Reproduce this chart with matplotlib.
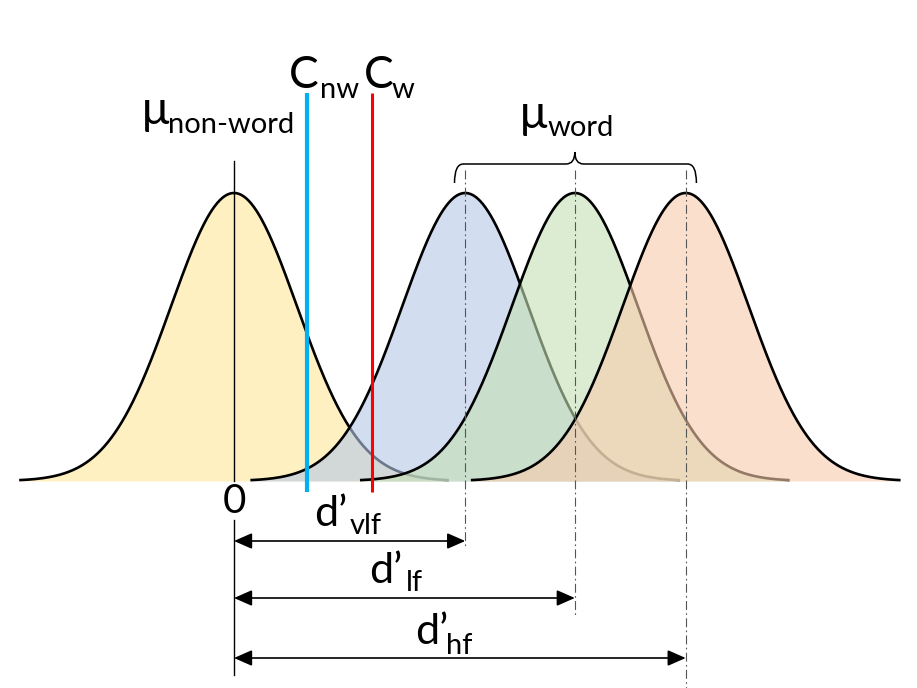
import numpy as np
import matplotlib
matplotlib.use("Agg")
import matplotlib.pyplot as plt
from matplotlib.path import Path
from matplotlib.patches import PathPatch

# Signal-detection picture of a lexical decision task (units: one SD)
mu_nonword = 0.0
word_means = [3.67, 5.41, 7.17]          # very low, low, high frequency words
word_labels = ["vlf", "lf", "hf"]
c_nonword = 1.16                           # criterion C_nw
c_word = 2.19                              # criterion C_w
tail = 3.41                                # curves are cut off at +/- this

fill_colors = ["#FFE699", "#B4C7E7", "#C5E0B4", "#F8CBAD"]
fill_alpha = 0.6

W, H = 917, 688
PX_X = 63.0      # pixels per SD
PX_Y = 288.0     # pixels per unit of density (peak = 1)
X0, Y0 = 234.0, 481.0

fig = plt.figure(figsize=(W / 100, H / 100), dpi=100)
ax = fig.add_axes([0, 0, 1, 1])
ax.set_xlim(-X0 / PX_X, (W - X0) / PX_X)
ax.set_ylim(-(H - Y0) / PX_Y, Y0 / PX_Y)
ax.axis("off")

# overlay in pixel units for the text labels
tx = fig.add_axes([0, 0, 1, 1], facecolor="none")
tx.set_xlim(0, W)
tx.set_ylim(H, 0)
tx.axis("off")


def yd(py):
    """vertical pixel position -> density units"""
    return (Y0 - py) / PX_Y


means = [mu_nonword] + word_means
for i, (mu, col) in enumerate(zip(means, fill_colors)):
    x = np.linspace(mu - tail, mu + tail, 500)
    y = np.exp(-0.5 * (x - mu) ** 2)
    ax.fill_between(x, 0, y, color=col, alpha=fill_alpha, lw=0, zorder=2 * i + 1)
    ax.plot(x, y, color="black", lw=1.9, zorder=2 * i + 2, solid_capstyle="butt")

# criteria
ax.plot([c_nonword, c_nonword], [yd(93), yd(492)], color="#00B0F0", lw=3.0, zorder=20,
        solid_capstyle="butt")
ax.plot([c_word, c_word], [yd(93), yd(492)], color="#FF0000", lw=2.2, zorder=20,
        solid_capstyle="butt")

# non-word mean marker
ax.plot([mu_nonword, mu_nonword], [yd(161), 0], color="black", lw=1.0, zorder=20)
ax.plot([mu_nonword, mu_nonword], [yd(520), yd(675)], color="black", lw=1.0, zorder=20)

# word means (dash-dot) and d' arrows
arrow_py = [541, 598, 658]
line_bottom_py = [548, 615, 690]
for mu, apy, lpy in zip(word_means, arrow_py, line_bottom_py):
    ax.plot([mu, mu], [yd(170), yd(lpy)], color="#555555", lw=0.8, zorder=19,
            linestyle=(0, (8, 3, 1.5, 3)))
    ax.annotate("", xy=(mu, yd(apy)), xytext=(mu_nonword, yd(apy)),
                arrowprops=dict(arrowstyle="<|-|>,head_length=0.5,head_width=0.22",
                                mutation_scale=22, lw=1.2, color="black",
                                shrinkA=0, shrinkB=0), zorder=21)

# brace over the word means
xl = word_means[0] - 0.17
xr = word_means[-1] + 0.17
xm = word_means[1]
r = 0.14
y_end, y_h, y_tip = yd(183), yd(164), yd(152)
verts = [(xl, y_end), (xl, y_h), (xl + r, y_h),
         (xm - r, y_h), (xm, y_h), (xm, y_tip),
         (xm, y_h), (xm + r, y_h),
         (xr - r, y_h), (xr, y_h), (xr, y_end)]
codes = [Path.MOVETO, Path.CURVE3, Path.CURVE3,
         Path.LINETO, Path.CURVE3, Path.CURVE3,
         Path.CURVE3, Path.CURVE3,
         Path.LINETO, Path.CURVE3, Path.CURVE3]
ax.add_patch(PathPatch(Path(verts, codes), fill=False, lw=1.1, color="black", zorder=21))

# text
FONT = ["Lato", "DejaVu Sans"]


def two_part(x, y, main, sub, xs, ys, size_main, size_sub):
    tx.text(x, y, main, fontsize=size_main, family=FONT, ha="left", va="baseline")
    tx.text(xs, ys, sub, fontsize=size_sub, family=FONT, ha="left", va="baseline")


two_part(141, 124, "\u00b5", "non-word", 168, 133, 33, 21)
two_part(519, 128, "\u00b5", "word", 548, 136, 33, 21)
two_part(289, 88, "C", "nw", 320, 98, 32, 21)
two_part(364, 88, "C", "w", 392, 98, 32, 21)
tx.text(234, 513, "0", fontsize=29, family=FONT, ha="center", va="baseline")

dlabel_pos = [(314, 526, 350, 534), (369, 583, 406, 591), (415, 644, 446, 654)]
for lab, (x1, y1, x2, y2) in zip(word_labels, dlabel_pos):
    two_part(x1, y1, "d\u2019", lab, x2, y2, 31, 21)

fig.savefig("out.png", dpi=100)
